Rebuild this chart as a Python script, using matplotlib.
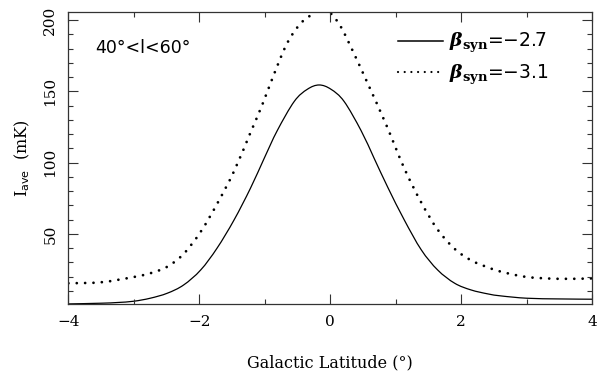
import numpy as np
import matplotlib
matplotlib.use("Agg")
import matplotlib.pyplot as plt
from matplotlib.ticker import MultipleLocator
from matplotlib.path import Path
from matplotlib.patches import PathPatch
from matplotlib.lines import Line2D

# ============================================
# DATEN
# ============================================
lat_solid = [-4.0, -3.5, -3.25, -3.0, -2.75, -2.49, -2.24, -1.98, -1.73, -1.47, -1.22,
             -1.01, -0.81, -0.55, -0.35, -0.17, 0.01, 0.21, 0.47, 0.67, 0.88,
             1.13, 1.39, 1.64, 1.9, 2.15, 2.41, 2.61, 3.0, 3.5, 4.0]
I_solid = [0.9, 1.4, 1.9, 2.8, 4.9, 8.4, 14.2, 24.7, 40.0, 59.8, 82.0,
           103.0, 122.5, 143.0, 151.5, 154.5, 151.5, 143.0, 122.5, 103.0, 82.5,
           59.8, 38.8, 24.7, 15.4, 10.7, 7.9, 6.5, 4.9, 4.4, 4.2]

lat_dot = [-4.0, -3.5, -3.0, -2.75, -2.49, -2.24, -1.98, -1.73, -1.47, -1.22,
           -1.04, -0.86, -0.66, -0.45, -0.25, -0.13, 0.0, 0.16, 0.36, 0.57,
           0.85, 1.13, 1.39, 1.64, 1.9, 2.15, 2.41, 2.61, 3.0, 3.5, 4.0]
I_dot = [15.4, 16.1, 19.8, 22.4, 27.0, 36.0, 51.5, 71.0, 94.0, 121.0,
         140.5, 162.0, 183.7, 197.8, 204.8, 207.5, 205.0, 195.4, 176.7, 155.7,
         127.0, 96.0, 72.0, 53.0, 39.5, 31.5, 26.5, 23.5, 19.8, 18.5, 18.8]

labels = [r"$\beta_{\mathbf{syn}}$=$-$2.7", r"$\beta_{\mathbf{syn}}$=$-$3.1"]
region = "40°<l<60°"


# glatte Kurve durch die Punkte (Catmull-Rom als Bezier-Pfad)
def smooth_path(x, y):
    p = np.column_stack([x, y]).astype(float)
    verts = [p[0]]
    codes = [Path.MOVETO]
    n = len(p)
    for i in range(n - 1):
        p0 = p[max(i - 1, 0)]
        p1 = p[i]
        p2 = p[i + 1]
        p3 = p[min(i + 2, n - 1)]
        c1 = p1 + (p2 - p0) / 6.0
        c2 = p2 - (p3 - p1) / 6.0
        verts += [c1, c2, p2]
        codes += [Path.CURVE4] * 3
    return Path(verts, codes)


# ============================================
# STIL
# ============================================
plt.rcParams["mathtext.fontset"] = "custom"
plt.rcParams["mathtext.rm"] = "DejaVu Sans"
plt.rcParams["mathtext.it"] = "DejaVu Serif:italic:bold"
plt.rcParams["mathtext.bf"] = "DejaVu Serif:bold"
plt.rcParams["font.family"] = "DejaVu Serif"

fig = plt.figure(figsize=(6.0, 3.72), dpi=100)
ax = fig.add_axes([0.114, 0.183, 0.873, 0.784])

solid = PathPatch(smooth_path(lat_solid, I_solid), fill=False, edgecolor="black",
                  lw=0.9, capstyle="round")
dotted = PathPatch(smooth_path(lat_dot, I_dot), fill=False, edgecolor="black",
                   lw=2.0, linestyle=(0, (0.01, 3.0)), capstyle="round")
ax.add_patch(solid)
ax.add_patch(dotted)

ax.set_xlim(-4, 4)
ax.set_ylim(0.9, 205.5)
ax.xaxis.set_major_locator(MultipleLocator(2))
ax.xaxis.set_minor_locator(MultipleLocator(1))
ax.yaxis.set_minor_locator(MultipleLocator(10))
ax.set_yticks([50, 100, 150, 200])
ax.tick_params(which="both", direction="in", top=True, right=True,
               width=0.8, color="#333333")
ax.tick_params(which="major", length=7, labelsize=11, pad=8)
ax.tick_params(which="minor", length=3.5)
for t in ax.get_yticklabels():
    t.set_rotation(90)
    t.set_va("center")
for s in ax.spines.values():
    s.set_linewidth(0.9)
    s.set_color("#333333")

ax.set_xlabel("Galactic Latitude (°)", fontsize=11.5, labelpad=18)
ax.set_ylabel(r"I$_{\mathrm{ave}}$  (mK)", fontsize=11.5, labelpad=8)

ax.text(0.051, 0.86, region, transform=ax.transAxes, family="DejaVu Sans",
        fontsize=12.5, va="baseline")

handles = [Line2D([], [], color="black", lw=1.1),
           Line2D([], [], color="black", lw=1.6, linestyle=(0, (0.01, 3.0)),
                  dash_capstyle="round")]
leg = ax.legend(handles, labels, loc="upper right", frameon=False,
                handlelength=2.4, handletextpad=0.3, labelspacing=0.4,
                borderaxespad=0.6, bbox_to_anchor=(0.952, 1.0),
                prop={"family": "DejaVu Sans", "size": 13.5})

plt.savefig("out.png", dpi=100)
